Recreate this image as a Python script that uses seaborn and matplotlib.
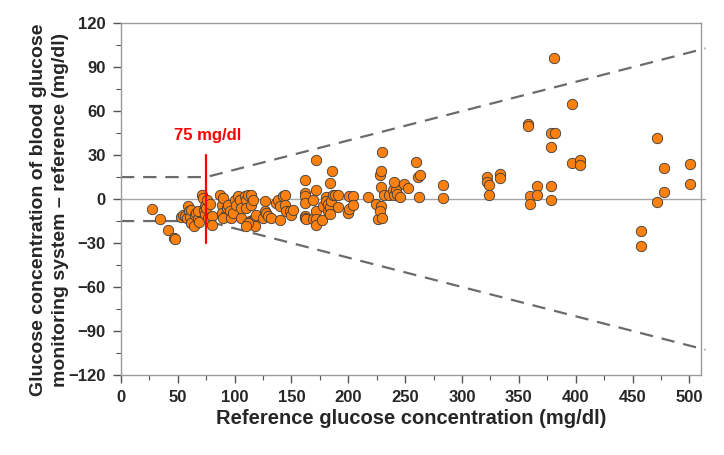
import numpy as np
import pandas as pd
import matplotlib
matplotlib.use("Agg")
import matplotlib.pyplot as plt
import seaborn as sns

# reference glucose (mg/dl) and difference meter - reference (mg/dl)
ref_low = [27, 34, 41, 47, 48,
           53, 55, 56, 58, 59, 60, 61, 62, 62, 64, 65, 66, 68, 68, 69,
           71, 72, 73, 74, 74, 75, 76, 77, 78, 80, 80]
diff_low = [-7, -13.5, -21, -26.3, -27.5,
            -12.2, -10.6, -11.7, -12.9, -4.9, -8.3, -12.2, -7.2, -16, -18.5, -10.6, -9.4, -13.5, -8, -15.8,
            3.1, 0.8, -7.2, -4.5, -10, -6.1, -0.3, -13, -3.7, -11.7, -17.4]

ref_mid = [87, 88.5, 90, 88.5, 91.4, 90, 92.9, 94.3, 95.8, 97.2, 98.7, 100.2, 101.6, 103.1,
           104.6, 106, 106, 109, 110.4, 110.4, 111.9, 113.4, 114.8, 114.8, 116.3, 116.3,
           117.8, 117.8, 119.2, 125.1, 126.5, 126.5, 128, 129.5, 132.4, 136.8, 138.3,
           139.7, 139.7, 142.7, 144.1, 144.1, 145.6, 148.5, 150, 151.4, 112, 110]
diff_mid = [3.1, -3.8, 0.8, -9.4, -11.7, -12.8, -6, -3.8, -8.3, -12.8, -9.4, -0.3, -3.8, 1.9,
            -0.3, -6, -12.8, 1.9, -0.3, -6, 3.1, -15.1, -3.8, 3.1, -14, -0.3,
            -12.8, -18.5, -10.6, -12.8, -1.5, -8.3, -9.4, -11.7, -12.8, -2.6, -0.3,
            -4.9, -14, 1.9, 3.1, -3.8, -8.3, -8.3, -10.6, -7.2, -16.3, -18.5]

ref_high = [161.7, 161.7, 161.7, 161.7, 161.7, 161.7, 163, 169, 169, 171.4, 172, 172, 172, 172,
            177, 177.6, 180.7, 180.7, 182, 182, 183.5, 183.5, 184.9, 184.2, 186, 186.6, 188,
            191, 191, 199.8, 201, 201, 204, 204, 217.4, 224.7, 226, 227.6, 229, 229.9, 229,
            229, 228, 230, 231.6, 236, 239, 240, 242, 243, 240, 245.2, 248.8, 252.6, 259.9,
            261.4, 262.9, 262, 283.2, 283.2]
diff_high = [13.3, 4.2, 1.9, -2.6, -11.3, -12.8, -13.8, -0.8, -13.6, 26.9, 5.9, -8.3, -13.6, -17.5,
             -14, -4.6, 1.1, -1.2, -3.4, -8, -5.7, -10.3, -1.2, 11, 19, 2.6, 2.6,
             2.6, -5.7, -9.2, -6.9, 2.2, 2.2, -4, 1.6, -3.3, -13.8, 16.6, 19, 32.2, 8,
             -4.5, -8, -13, 2.6, 2.6, 6, 2.6, 6, 3.5, 11.6, 1.6, 10.6, 7.7, 25.5,
             15.2, 16.4, 1.6, 9.5, 0.5]

ref_top = [322, 322, 324, 324, 333, 333, 358, 358, 359.4, 359.4, 366, 366, 378, 381.4, 378.5,
           378, 378.5, 380.7, 396.5, 396.5, 404, 404, 457.6, 457.6, 471.3, 471.3, 478, 478,
           500.6, 500.6]
diff_top = [15.2, 11.8, 9.5, 2.6, 16.8, 14.5, 51.4, 49.8, 1.9, -3.3, 8.8, 3.1, 44.8, 45.2, 35.7,
            8.8, -0.3, 96, 64.6, 24.7, 26.5, 23.5, -22, -31.8, 41.4, -2.2, 21.3, 4.7,
            23.6, 10.6]

df = pd.DataFrame({
    "ref": ref_low + ref_mid + ref_high + ref_top,
    "diff": diff_low + diff_mid + diff_high + diff_top,
})

sns.set_style("ticks")
plt.rcParams["font.family"] = ["Liberation Sans", "DejaVu Sans"]
plt.rcParams["font.weight"] = "bold"

fig = plt.figure(figsize=(7.24, 4.55), dpi=100)
ax = fig.add_axes([0.167, 0.176, 0.801, 0.773])

x_end = 514
# zero line and +/- 15 mg/dl / 20 % limits
ax.plot([0, x_end], [0, 0], color="#a6a6a6", lw=1.0, zorder=1, clip_on=False)
ax.plot([0, 75, x_end], [15, 15, 0.2 * x_end], color="#6b6b6b", lw=1.6,
        dashes=(6, 4), zorder=1, clip_on=False)
ax.plot([0, 75, x_end], [-15, -15, -0.2 * x_end], color="#6b6b6b", lw=1.6,
        dashes=(6, 4), zorder=1, clip_on=False)

sns.scatterplot(data=df, x="ref", y="diff", ax=ax, color="#fb8010", s=56,
                edgecolor="#3a3a3a", linewidth=0.6, zorder=3)

ax.plot([75, 75], [-30, 30], color="red", lw=1.6, zorder=4)
ax.text(76, 43.5, "75 mg/dl", color="red", fontsize=12, fontweight="bold",
        ha="center", va="center")

ax.set_xlim(0, 510)
ax.set_ylim(-120, 120)
ax.set_xticks(np.arange(0, 501, 50))
ax.set_xticks(np.arange(0, 501, 25), minor=True)
ax.set_yticks(np.arange(-120, 121, 30))
ax.set_yticks(np.arange(-120, 121, 15), minor=True)
ax.tick_params(axis="both", which="major", length=6, width=1, color="#555555",
               labelsize=12, pad=5)
ax.tick_params(axis="both", which="minor", length=3.5, width=0.8, color="#555555")
for lab in ax.get_xticklabels() + ax.get_yticklabels():
    lab.set_fontweight("bold")

for sp in ax.spines.values():
    sp.set_color("#9a9a9a")
    sp.set_linewidth(1.0)
    sp.set_visible(True)

ax.set_xlabel("Reference glucose concentration (mg/dl)", fontsize=14.5,
              fontweight="bold", labelpad=3)
ax.set_ylabel("Glucose concentration of blood glucose\nmonitoring system \u2013 reference (mg/dl)",
              fontsize=14, fontweight="bold", linespacing=1.4)
ax.yaxis.set_label_coords(-0.09, 0.47)

fig.savefig("out.png", dpi=100)
